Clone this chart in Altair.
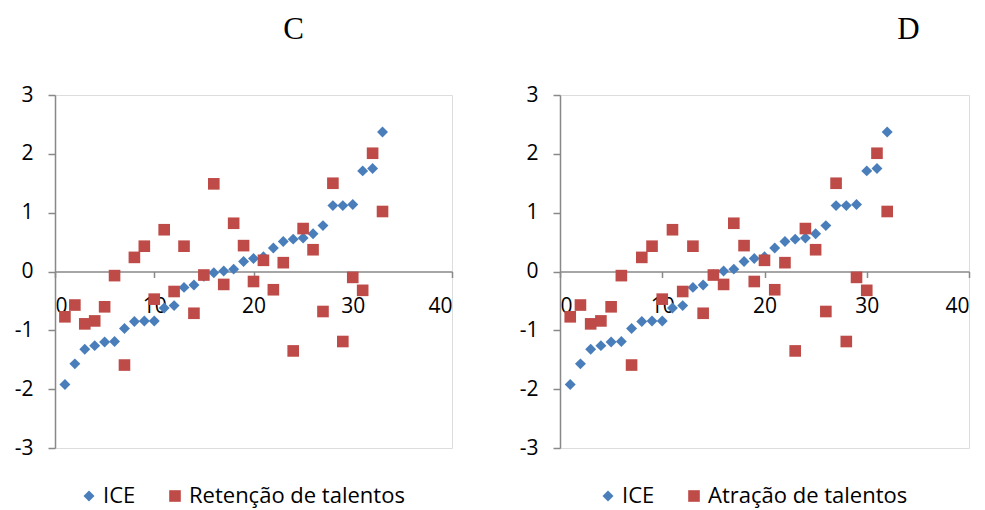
import altair as alt
import pandas as pd

# Panel C
x_c = list(range(1, 34))
ice_c = [-1.92, -1.57, -1.32, -1.26, -1.20, -1.19, -0.97, -0.85, -0.84, -0.84,
         -0.62, -0.58, -0.27, -0.23, -0.08, -0.02, 0.01, 0.04, 0.17, 0.22,
         0.25, 0.40, 0.51, 0.55, 0.57, 0.64, 0.78, 1.12, 1.12, 1.14,
         1.71, 1.75, 2.37]
ret_c = [-0.77, -0.57, -0.89, -0.84, -0.60, -0.07, -1.59, 0.24, 0.43, -0.47,
         0.71, -0.34, 0.43, -0.71, -0.06, 1.49, -0.22, 0.82, 0.44, -0.17,
         0.19, -0.31, 0.15, -1.35, 0.73, 0.37, -0.68, 1.50, -1.19, -0.10,
         -0.32, 2.01, 1.02]

# Panel D
x_d = list(range(1, 33))
ice_d = [-1.92, -1.57, -1.32, -1.26, -1.20, -1.19, -0.97, -0.85, -0.84, -0.84,
         -0.62, -0.58, -0.27, -0.23, -0.05, 0.01, 0.04, 0.17, 0.22, 0.25,
         0.40, 0.51, 0.55, 0.57, 0.64, 0.78, 1.12, 1.12, 1.14, 1.71,
         1.75, 2.37]
atr_d = [-0.77, -0.57, -0.89, -0.84, -0.60, -0.07, -1.59, 0.24, 0.43, -0.47,
         0.71, -0.34, 0.43, -0.71, -0.06, -0.22, 0.82, 0.44, -0.17, 0.19,
         -0.31, 0.15, -1.35, 0.73, 0.37, -0.68, 1.50, -1.19, -0.10, -0.32,
         2.01, 1.02]

x_ticks = [0, 10, 20, 30, 40]
y_ticks = [-3, -2, -1, 0, 1, 2, 3]

BLUE = "#4A7EBB"
RED = "#BE4B48"
GREY = "#898989"
FONT = "Open Sans"
H = 353


def panel(xs, ice, other, other_name, title, title_dx, width, legend_x):
    df = pd.DataFrame({
        "x": xs + xs,
        "y": ice + other,
        "serie": ["ICE"] * len(xs) + [other_name] * len(xs),
        "ord": [0] * len(xs) + [1] * len(xs),
    })
    return alt.Chart(df, title=alt.TitleParams(
        title, font="Liberation Serif", fontSize=31, fontWeight="normal",
        color="black", anchor="middle", dx=title_dx, offset=38)).mark_point(
        filled=True, opacity=1).encode(
        x=alt.X("x:Q", scale=alt.Scale(domain=[0, 40], nice=False),
                axis=alt.Axis(values=x_ticks, offset=-H / 2, title=None, grid=False,
                              domainColor=GREY, tickColor=GREY, domainWidth=1.5,
                              tickWidth=1.5, tickSize=6, labelPadding=18,
                              labelFont=FONT, labelFontSize=21, labelColor="black")),
        y=alt.Y("y:Q", scale=alt.Scale(domain=[-3, 3], nice=False),
                axis=alt.Axis(values=y_ticks, title=None, grid=False,
                              domainColor=GREY, tickColor=GREY, domainWidth=1.5,
                              tickWidth=1.5, tickSize=7, labelPadding=15,
                              labelFont=FONT, labelFontSize=21, labelColor="black",
                              labelExpr="datum.value < 0 ? '-' + abs(datum.value) : '' + datum.value")),
        color=alt.Color("serie:N", scale=alt.Scale(domain=["ICE", other_name], range=[BLUE, RED]),
                        legend=alt.Legend(title=None, orient="none", direction="horizontal",
                                          legendX=legend_x, legendY=390,
                                          labelFont=FONT, labelFontSize=22, labelColor="black",
                                          labelLimit=400,
                                          symbolSize=110, symbolStrokeWidth=0,
                                          labelOffset=3, columnPadding=28)),
        shape=alt.Shape("serie:N", scale=alt.Scale(domain=["ICE", other_name], range=["diamond", "square"]),
                        legend=alt.Legend(title=None, orient="none", direction="horizontal",
                                          legendX=legend_x, legendY=390, labelLimit=400)),
        size=alt.Size("serie:N", scale=alt.Scale(domain=["ICE", other_name], range=[120, 135]),
                      legend=None),
        order=alt.Order("ord:Q"),
    ).properties(width=width, height=H)


c = panel(x_c, ice_c, ret_c, "Retenção de talentos", "C", 40, 397, 23)
d = panel(x_d, ice_d, atr_d, "Atração de talentos", "D", 144, 409, 37)

chart = alt.hconcat(c, d, spacing=64).resolve_scale(
    color="independent", shape="independent", size="independent"
).properties(
    padding={"left": 5, "top": 5, "right": 0, "bottom": 0}
).configure_view(stroke=None).configure(background="white")

chart.save("out.html", embed_options={"renderer": "svg", "actions": False})
